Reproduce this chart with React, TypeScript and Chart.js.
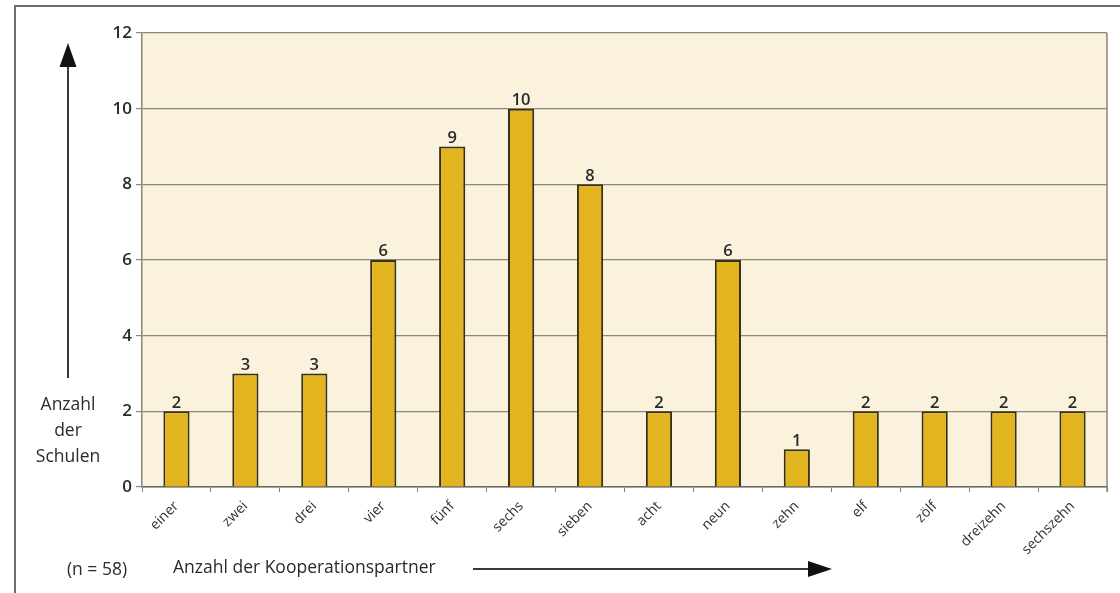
import React, { useEffect, useRef } from "react";
import { Chart, registerables } from "chart.js";

Chart.register(...registerables);

const categories = ["einer", "zwei", "drei", "vier", "fünf", "sechs", "sieben", "acht", "neun", "zehn", "elf", "zölf", "dreizehn", "sechszehn"];
const schoolCounts = [2, 3, 3, 6, 9, 10, 8, 2, 6, 1, 2, 2, 2, 2];
const yTicks = [0, 2, 4, 6, 8, 10, 12];
const yAxisTitle = ["Anzahl", "der", "Schulen"];
const xAxisTitle = "Anzahl der Kooperationspartner";
const sampleNote = "(n = 58)";

const FONT = "'Open Sans', 'DejaVu Sans', sans-serif";
const TEXT = "#2a2a2a";

export default function App() {
  const ref = useRef<HTMLCanvasElement | null>(null);

  useEffect(() => {
    document.body.style.margin = "0";
    const canvas = ref.current;
    if (!canvas) return;

    const decor = {
      id: "decor",
      beforeDraw(chart: any) {
        const { ctx, chartArea: a } = chart;
        ctx.save();
        ctx.fillStyle = "#ffffff";
        ctx.fillRect(0, 0, chart.width, chart.height);
        ctx.fillStyle = "#fbf2dd";
        ctx.fillRect(a.left, a.top, a.right - a.left, a.bottom - a.top);
        ctx.restore();
      },
      afterDraw(chart: any) {
        const { ctx, chartArea: a } = chart;
        ctx.save();
        // outer frame
        ctx.strokeStyle = "#6e6e6e";
        ctx.lineWidth = 2;
        ctx.beginPath();
        ctx.moveTo(15, 593);
        ctx.lineTo(15, 6);
        ctx.lineTo(1120, 6);
        ctx.stroke();
        // plot right border
        ctx.strokeStyle = "#8a8478";
        ctx.lineWidth = 1.5;
        ctx.beginPath();
        ctx.moveTo(a.right, a.top);
        ctx.lineTo(a.right, a.bottom + 5);
        ctx.stroke();
        // vertical arrow
        ctx.strokeStyle = "#3a3a3a";
        ctx.fillStyle = "#111";
        ctx.lineWidth = 2;
        ctx.beginPath();
        ctx.moveTo(68, 378);
        ctx.lineTo(68, 62);
        ctx.stroke();
        ctx.beginPath();
        ctx.moveTo(68, 43);
        ctx.lineTo(59.5, 67);
        ctx.lineTo(76.5, 67);
        ctx.closePath();
        ctx.fill();
        // horizontal arrow
        ctx.beginPath();
        ctx.moveTo(473, 569);
        ctx.lineTo(812, 569);
        ctx.stroke();
        ctx.beginPath();
        ctx.moveTo(832, 569);
        ctx.lineTo(808, 561);
        ctx.lineTo(808, 577);
        ctx.closePath();
        ctx.fill();
        // texts
        ctx.fillStyle = TEXT;
        ctx.font = `500 17.5px ${FONT}`;
        ctx.textAlign = "center";
        ctx.textBaseline = "middle";
        yAxisTitle.forEach((t, i) => ctx.fillText(t, 68, 405 + i * 26));
        ctx.fillText(sampleNote, 97, 570);
        ctx.textAlign = "left";
        ctx.fillText(xAxisTitle, 173, 568);
        ctx.restore();
      },
      afterDatasetsDraw(chart: any) {
        const { ctx } = chart;
        const meta = chart.getDatasetMeta(0);
        ctx.save();
        ctx.fillStyle = TEXT;
        ctx.font = `600 16.5px ${FONT}`;
        ctx.textAlign = "center";
        ctx.textBaseline = "bottom";
        meta.data.forEach((bar: any, i: number) => {
          ctx.fillText(String(schoolCounts[i]), bar.x, bar.y);
        });
        ctx.restore();
      },
    };

    const chart = new Chart(canvas, {
      type: "bar",
      data: {
        labels: categories,
        datasets: [
          {
            data: schoolCounts,
            backgroundColor: "#e2b41f",
            borderColor: "#3a3115",
            borderWidth: 2,
            categoryPercentage: 0.76,
            barPercentage: 0.5,
          },
        ],
      },
      options: {
        animation: false,
        responsive: false,
        devicePixelRatio: 1,
        layout: { padding: { left: 20, top: 33, right: 13, bottom: 0 } },
        plugins: { legend: { display: false }, tooltip: { enabled: false } },
        scales: {
          x: {
            grid: {
              offset: true,
              drawOnChartArea: false,
              drawTicks: true,
              tickLength: 5,
              color: "#7d7d7d",
            },
            border: { color: "#6f6a60", width: 1.5 },
            ticks: {
              color: "#333",
              font: { family: FONT, size: 14, weight: "500" },
              maxRotation: 45,
              minRotation: 45,
              padding: 6,
            },
            afterFit(scale: any) {
              scale.height = 593 - 487;
            },
          },
          y: {
            min: 0,
            max: 12,
            afterBuildTicks(scale: any) {
              scale.ticks = yTicks.map((v) => ({ value: v }));
            },
            grid: { color: "#8d8779", lineWidth: 1.2, tickLength: 6 },
            border: { color: "#8a8478", width: 1.5 },
            ticks: {
              color: TEXT,
              font: { family: FONT, size: 17, weight: "600" },
              padding: 4,
            },
            afterFit(scale: any) {
              scale.width = 142 - 20;
            },
          },
        },
      },
      plugins: [decor],
    });
    return () => chart.destroy();
  }, []);

  return (
    <div style={{ width: 1120, height: 593 }}>
      <canvas ref={ref} width={1120} height={593} style={{ display: "block", width: 1120, height: 593 }} />
    </div>
  );
}
